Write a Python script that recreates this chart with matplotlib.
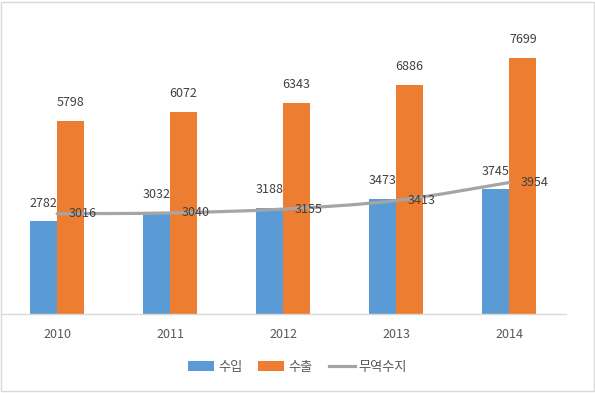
import matplotlib
matplotlib.use("Agg")
import matplotlib.pyplot as plt
from matplotlib.path import Path
from matplotlib.patches import PathPatch, Rectangle
from matplotlib.lines import Line2D
from matplotlib.patches import Patch
import numpy as np

plt.rcParams['font.family'] = ['Noto Sans CJK KR', 'DejaVu Sans']

years = ["2010", "2011", "2012", "2013", "2014"]
imports = [2782, 3032, 3188, 3473, 3745]      # 수입
exports = [5798, 6072, 6343, 6886, 7699]      # 수출
balance = [3016, 3040, 3155, 3413, 3954]      # 무역수지

blue = "#5b9bd5"
orange = "#ed7d31"
gray = "#a5a5a5"
label_color = "#404040"
tick_color = "#595959"

fig = plt.figure(figsize=(5.95, 3.93), dpi=100)
ax = fig.add_axes([0.001, 0.201, 0.950, 0.7615])

x = np.arange(len(years))
w = 0.238
ax.bar(x - w / 2, imports, w, color=blue, zorder=2)
ax.bar(x + w / 2, exports, w, color=orange, zorder=2)

# smoothed line (Bezier through data points)
pts = np.column_stack([x, balance]).astype(float)
n = len(pts)
verts = [tuple(pts[0])]
codes = [Path.MOVETO]
for i in range(n - 1):
    p0 = pts[i - 1] if i > 0 else pts[i]
    p1 = pts[i]
    p2 = pts[i + 1]
    p3 = pts[i + 2] if i + 2 < n else pts[i + 1]
    c1 = p1 + (p2 - p0) / 6.0
    c2 = p2 - (p3 - p1) / 6.0
    verts += [tuple(c1), tuple(c2), tuple(p2)]
    codes += [Path.CURVE4] * 3
path = Path(verts, codes)
ax.add_patch(PathPatch(path, facecolor="none", edgecolor=gray, lw=2.3,
                       capstyle="round", zorder=3))

fs = 9
for xi, v in zip(x, imports):
    ax.annotate(str(v), (xi - w / 2, v), xytext=(0, 8.5), textcoords="offset points",
                ha="center", va="bottom", fontsize=fs, color=label_color, zorder=4)
for xi, v in zip(x, exports):
    ax.annotate(str(v), (xi + w / 2, v), xytext=(0, 8.5), textcoords="offset points",
                ha="center", va="bottom", fontsize=fs, color=label_color, zorder=4)
for xi, v in zip(x, balance):
    ax.annotate(str(v), (xi, v), xytext=(8.5, 0), textcoords="offset points",
                ha="left", va="center", fontsize=fs, color=label_color, zorder=4)

ax.set_xlim(-0.5, len(years) - 0.5)
ax.set_ylim(0, 9000)
ax.set_xticks(x)
ax.set_xticklabels(years, fontsize=fs, color=tick_color)
ax.tick_params(axis="x", length=0, pad=10)
ax.set_yticks([])
for s in ["top", "right", "left"]:
    ax.spines[s].set_visible(False)
ax.spines["bottom"].set_color("#d9d9d9")
ax.spines["bottom"].set_linewidth(1.0)

handles = [Patch(facecolor=blue, edgecolor="none"),
           Patch(facecolor=orange, edgecolor="none"),
           Line2D([0], [0], color=gray, lw=2.3)]
fig.legend(handles, ["수입", "수출", "무역수지"], loc="center",
           bbox_to_anchor=(0.5, (393 - 367) / 393), ncol=3, frameon=False,
           fontsize=fs + 0.5, labelcolor=tick_color, handlelength=2.0,
           handleheight=0.7, handletextpad=0.3, columnspacing=1.2)

fig.patches.append(Rectangle((0.002, 0.006), 0.996, 0.99, transform=fig.transFigure,
                             fill=False, edgecolor="#d9d9d9", lw=1.0))

fig.savefig("out.png", dpi=100)
